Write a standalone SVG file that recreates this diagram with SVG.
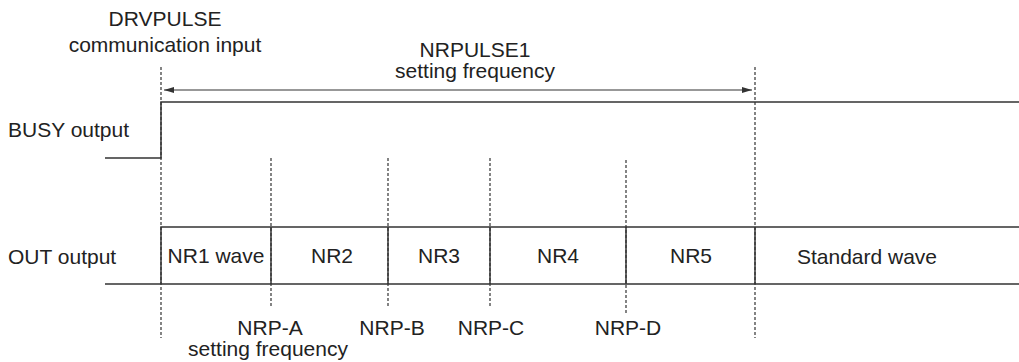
<svg xmlns="http://www.w3.org/2000/svg" width="1019" height="362" viewBox="0 0 1019 362">
  <style>
    text { font-family: "Liberation Sans", Arial, sans-serif; font-size: 21px; fill: #222; }
    .mid { text-anchor: middle; }
    .solid { stroke: #333; stroke-width: 1.5; fill: none; }
    .guide { stroke: #333; stroke-width: 1.2; stroke-dasharray: 3 2; fill: none; }
    .dim { stroke: #333; stroke-width: 1.2; fill: none; }
  </style>
  <defs>
    <marker id="head" viewBox="0 0 10 6" refX="10" refY="3" markerWidth="10" markerHeight="6" markerUnits="userSpaceOnUse" orient="auto-start-reverse">
      <path d="M0,0 L10,3 L0,6 z" fill="#333"/>
    </marker>
  </defs>

  <!-- signal labels -->
  <g id="label-drvpulse">
    <text class="mid" x="165" y="26">DRVPULSE</text>
    <text class="mid" x="165" y="52">communication input</text>
  </g>
  <g id="label-nrpulse1">
    <text class="mid" x="475" y="57">NRPULSE1</text>
    <text class="mid" x="475" y="78">setting frequency</text>
  </g>
  <g id="label-busy">
    <text x="8" y="137">BUSY output</text>
  </g>
  <g id="label-out">
    <text x="8" y="264">OUT output</text>
  </g>

  <!-- BUSY waveform -->
  <g id="busy-wave">
    <path class="solid" d="M105,158 H161 V102 H1019"/>
  </g>

  <!-- OUT waveform segments -->
  <g id="out-wave">
    <path class="solid" d="M161,284 V227 H1019 M105,284 H1019"/>
    <path class="solid" d="M271,227 V284 M388,227 V284 M490,227 V284 M626,227 V284 M755,227 V284"/>
  </g>
  <g id="seg-nr1"><text class="mid" x="216" y="263">NR1 wave</text></g>
  <g id="seg-nr2"><text class="mid" x="332" y="263">NR2</text></g>
  <g id="seg-nr3"><text class="mid" x="439" y="263">NR3</text></g>
  <g id="seg-nr4"><text class="mid" x="558" y="263">NR4</text></g>
  <g id="seg-nr5"><text class="mid" x="691" y="263">NR5</text></g>
  <g id="seg-standard"><text class="mid" x="867" y="264">Standard wave</text></g>

  <!-- switching point labels -->
  <g id="nrp-a">
    <text class="mid" x="270" y="335">NRP-A</text>
    <text class="mid" x="268" y="356">setting frequency</text>
  </g>
  <g id="nrp-b"><text class="mid" x="392" y="335">NRP-B</text></g>
  <g id="nrp-c"><text class="mid" x="491" y="335">NRP-C</text></g>
  <g id="nrp-d"><text class="mid" x="628" y="335">NRP-D</text></g>

  <!-- timing guides and dimension arrow -->
  <g id="connectors">
    <line class="guide" x1="161" y1="67" x2="161" y2="338"/>
    <line class="guide" x1="755" y1="67" x2="755" y2="338"/>
    <line class="guide" x1="271" y1="158" x2="271" y2="307"/>
    <line class="guide" x1="388" y1="158" x2="388" y2="307"/>
    <line class="guide" x1="490" y1="158" x2="490" y2="307"/>
    <line class="guide" x1="626" y1="160" x2="626" y2="313"/>
    <line class="dim" x1="164" y1="90" x2="752" y2="90" marker-start="url(#head)" marker-end="url(#head)"/>
  </g>
</svg>
